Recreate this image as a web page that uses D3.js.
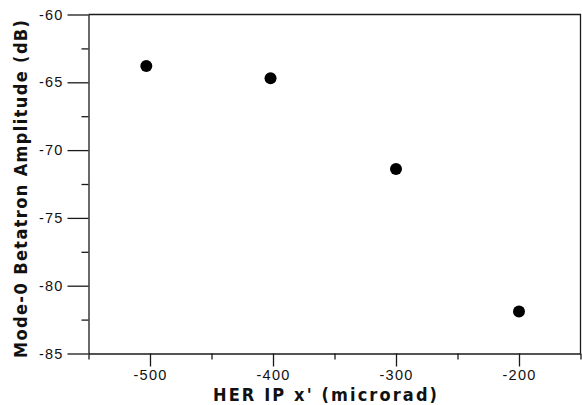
<!DOCTYPE html>
<html>
<head>
<meta charset="utf-8">
<script src="https://cdn.jsdelivr.net/npm/d3@7"></script>
<style>
  html, body { margin: 0; padding: 0; background: #fff; }
  svg { display: block; }
  .tick text { font-family: "Liberation Sans", Arial, sans-serif; font-size: 14.5px; fill: #111; letter-spacing: 1.2px; }
  .title { font-family: "DejaVu Sans Condensed", "DejaVu Sans", sans-serif; font-weight: bold; font-size: 18px; fill: #111; }
</style>
</head>
<body>
<svg id="chart" width="582" height="405"></svg>
<script>
// HER IP x' offset (microrad) and the resulting mode-0 betatron amplitude (dB)
const offsets = [-503, -402, -300, -200];
const amplitudes = [-63.8, -64.7, -71.4, -81.9];

const xMajorTicks = [-500, -400, -300, -200];
const xMinorTicks = [-550, -450, -350, -250, -150];
const yMajorTicks = [-85, -80, -75, -70, -65, -60];
const yMinorTicks = [-82.5, -77.5, -72.5, -67.5, -62.5];

const xTitle = "HER IP x' (microrad)";
const yTitle = "Mode-0 Betatron Amplitude (dB)";

const svg = d3.select("#chart");
const plotLeft = 88.5, plotRight = 580.5, plotTop = 14.5, plotBottom = 353.5;

const x = d3.scaleLinear().domain([-550, -150]).range([plotLeft, plotRight]);
const y = d3.scaleLinear().domain([-85, -60]).range([plotBottom, plotTop]);

const ink = "#1a1a1a";
const fmt = d => String(d);

// x axis: long major ticks with labels, short minor ticks
svg.append("g").attr("transform", `translate(0,${plotBottom})`)
  .call(d3.axisBottom(x).tickValues(xMajorTicks).tickSize(13).tickPadding(3).tickFormat(fmt).tickSizeOuter(0));
svg.append("g").attr("transform", `translate(0,${plotBottom})`)
  .call(d3.axisBottom(x).tickValues(xMinorTicks).tickSize(6).tickFormat("").tickSizeOuter(0))
  .select(".domain").remove();

// y axis
svg.append("g").attr("transform", `translate(${plotLeft},0)`)
  .call(d3.axisLeft(y).tickValues(yMajorTicks).tickSize(21).tickPadding(4).tickFormat(fmt).tickSizeOuter(0));
svg.append("g").attr("transform", `translate(${plotLeft},0)`)
  .call(d3.axisLeft(y).tickValues(yMinorTicks).tickSize(7).tickFormat("").tickSizeOuter(0))
  .select(".domain").remove();

svg.selectAll(".domain, .tick line").attr("stroke", ink).attr("stroke-width", 1.3);
svg.selectAll(".tick text").attr("fill", "#111");

// frame top and right edges
svg.append("path")
  .attr("d", `M${plotLeft},${plotTop}H${plotRight}V${plotBottom}`)
  .attr("fill", "none").attr("stroke", ink).attr("stroke-width", 1.3);

// data points
svg.append("g").selectAll("circle")
  .data(offsets.map((v, i) => [v, amplitudes[i]]))
  .join("circle")
  .attr("cx", d => x(d[0]))
  .attr("cy", d => y(d[1]))
  .attr("r", 6)
  .attr("fill", "#000");

// axis titles
svg.append("text").attr("class", "title")
  .attr("x", 213).attr("y", 401)
  .attr("textLength", 224).attr("lengthAdjust", "spacing")
  .text(xTitle);

svg.append("text").attr("class", "title")
  .attr("transform", "translate(27,358) rotate(-90)")
  .attr("textLength", 338).attr("lengthAdjust", "spacing")
  .text(yTitle);
</script>
</body>
</html>
